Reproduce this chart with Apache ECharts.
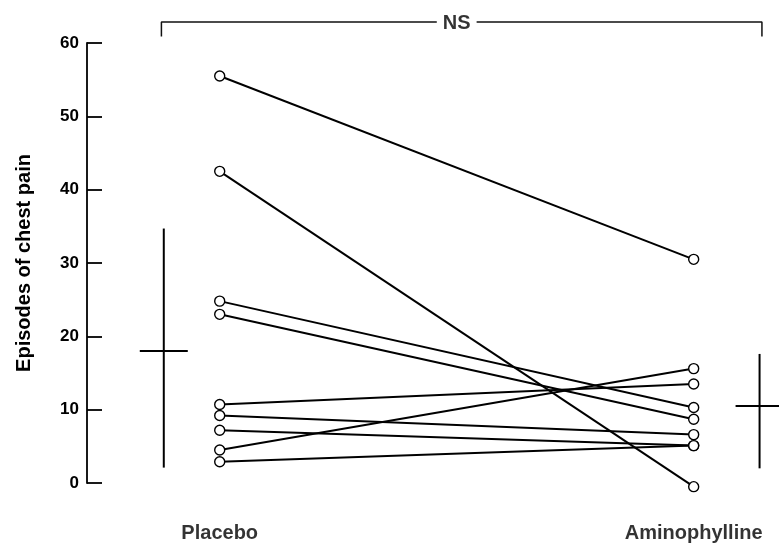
<!DOCTYPE html>
<html>
<head>
<meta charset="utf-8">
<script src="https://cdn.jsdelivr.net/npm/echarts@6/dist/echarts.min.js"></script>
<style>html,body{margin:0;padding:0;background:#fff}#c{width:779px;height:543px}</style>
</head>
<body>
<div id="c"></div>
<script>
// ---- data ----
const categories = ['Placebo', 'Aminophylline'];
const categoryX = [1, 2];
const placebo = [55.5, 42.5, 24.8, 23.0, 10.7, 9.2, 7.2, 4.5, 2.9];
const aminophylline = [30.5, -0.5, 10.3, 8.7, 13.5, 6.6, 5.1, 15.6, 5.1];
// summary bars: [x, mean, low, high]
const summaryX = [0.882, 2.139];
const summaryMean = [18.0, 10.5];
const summaryLow = [2.1, 2.0];
const summaryHigh = [34.7, 17.6];
const yTicks = [0, 10, 20, 30, 40, 50, 60];
const sigLabel = 'NS';
const bracketX = [0.877, 2.144];
const bracketY = [60.9, 62.87];
const sigGap = 0.042;
const labelY = -6.9;

const FONT = 'Liberation Sans, Arial, Helvetica, sans-serif';
const INK = '#000';
const chart = echarts.init(document.getElementById('c'), null, {renderer: 'canvas'});

const series = [];
placebo.forEach((p, i) => {
  series.push({
    type: 'line',
    data: [[categoryX[0], p], [categoryX[1], aminophylline[i]]],
    symbol: 'circle',
    symbolSize: 10,
    clip: false,
    silent: true,
    lineStyle: {color: INK, width: 2},
    itemStyle: {color: '#fff', borderColor: INK, borderWidth: 1.4},
    z: 3
  });
});

series.push({
  type: 'custom',
  clip: false,
  silent: true,
  data: summaryX.map((x, i) => [x, summaryMean[i], summaryLow[i], summaryHigh[i]]),
  renderItem: function (params, api) {
    const x = api.value(0);
    const m = api.coord([x, api.value(1)]);
    const lo = api.coord([x, api.value(2)]);
    const hi = api.coord([x, api.value(3)]);
    const st = {stroke: INK, lineWidth: 2};
    return {
      type: 'group',
      children: [
        {type: 'line', shape: {x1: lo[0], y1: lo[1], x2: hi[0], y2: hi[1]}, style: st},
        {type: 'line', shape: {x1: m[0] - 24, y1: m[1], x2: m[0] + 24, y2: m[1]}, style: st}
      ]
    };
  },
  z: 2
});

const midX = (categoryX[0] + categoryX[1]) / 2;
series.push({
  type: 'line', clip: false, silent: true, symbol: 'none',
  lineStyle: {color: '#111', width: 1.5},
  data: [[bracketX[0], bracketY[0]], [bracketX[0], bracketY[1]], [midX - sigGap, bracketY[1]]]
});
series.push({
  type: 'line', clip: false, silent: true, symbol: 'none',
  lineStyle: {color: '#111', width: 1.5},
  data: [[midX + sigGap, bracketY[1]], [bracketX[1], bracketY[1]], [bracketX[1], bracketY[0]]]
});
series.push({
  type: 'scatter', clip: false, silent: true, symbolSize: 0,
  data: [[midX, bracketY[1]]],
  label: {show: true, position: 'inside', offset: [0, 2], formatter: sigLabel, color: INK,
    fontFamily: FONT, fontSize: 20, fontWeight: 'bold'}
});
series.push({
  type: 'scatter', clip: false, silent: true, symbolSize: 0,
  data: categories.map((c, i) => ({value: [categoryX[i], labelY], name: c})),
  label: {show: true, position: 'inside', formatter: p => p.name, color: INK,
    fontFamily: FONT, fontSize: 20, fontWeight: 'bold'}
});

chart.setOption({
  animation: false,
  backgroundColor: '#fff',
  grid: {left: 87, top: 43, width: 693.5, height: 440, containLabel: false},
  xAxis: {type: 'value', min: 0.72, max: 2.18, show: false},
  yAxis: {
    type: 'value', min: yTicks[0], max: yTicks[yTicks.length - 1], interval: 10,
    name: 'Episodes of chest pain', nameLocation: 'middle', nameGap: 53,
    nameTextStyle: {fontFamily: FONT, fontSize: 20, fontWeight: 'bold', color: INK},
    axisLine: {show: true, lineStyle: {color: INK, width: 1.8}},
    axisTick: {show: true, inside: true, length: 15, lineStyle: {color: INK, width: 1.8}},
    axisLabel: {margin: 8, fontFamily: FONT, fontSize: 17, fontWeight: 'bold', color: INK},
    splitLine: {show: false}
  },
  series: series
});
</script>
</body>
</html>
